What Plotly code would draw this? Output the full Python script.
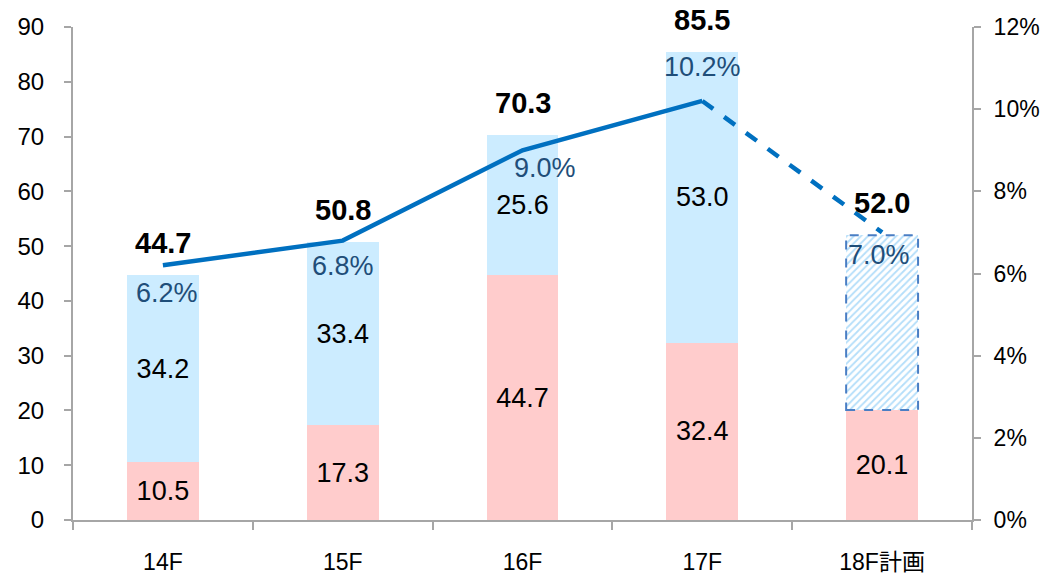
import plotly.graph_objects as go

categories = ["14F", "15F", "16F", "17F", "18F計画"]
lower_vals = [10.5, 17.3, 44.7, 32.4, 20.1]
upper_vals = [34.2, 33.4, 25.6, 53.0, 31.9]
totals = [44.7, 50.8, 70.3, 85.5, 52.0]
rates = [0.062, 0.068, 0.090, 0.102, 0.070]
rate_labels = ["6.2%", "6.8%", "9.0%", "10.2%", "7.0%"]
upper_labels = ["34.2", "33.4", "25.6", "53.0", ""]
lower_labels = ["10.5", "17.3", "44.7", "32.4", "20.1"]

PINK = "#FFCCCC"
LBLUE = "#CCECFF"
HATCH = "#B4DEFA"
LINE = "#0070C0"
PCT = "#1F4E79"
AX = "#A6A6A6"
FONT = "Liberation Sans, Arial, sans-serif"
NARROW = "Liberation Sans Narrow, Arial Narrow, Liberation Sans, Noto Sans CJK JP, sans-serif"
BW = 0.4

n = len(categories)
actual_upper = [v if k < n - 1 else None for k, v in enumerate(upper_vals)]
plan_upper = [v if k == n - 1 else None for k, v in enumerate(upper_vals)]

fig = go.Figure()
fig.add_trace(go.Bar(
    x=categories, y=lower_vals, marker=dict(color=PINK, line=dict(width=0)),
    text=lower_labels, textposition="inside", insidetextanchor="middle",
    textfont=dict(size=27, color="black", family=FONT), width=BW, showlegend=False,
))
fig.add_trace(go.Bar(
    x=categories, y=actual_upper, marker=dict(color=LBLUE, line=dict(width=0)),
    text=upper_labels, textposition="inside", insidetextanchor="middle",
    textfont=dict(size=27, color="black", family=FONT), width=BW, showlegend=False,
))
fig.add_trace(go.Bar(
    x=categories, y=plan_upper,
    marker=dict(color="white", line=dict(width=0),
                pattern=dict(shape="/", fgcolor=HATCH, bgcolor="white",
                             fillmode="replace", size=5, solidity=0.35)),
    width=BW, showlegend=False,
))
# dashed outline of plan segment
i = n - 1
fig.add_shape(type="rect", xref="x", yref="y",
              x0=i - BW / 2, x1=i + BW / 2, y0=lower_vals[i], y1=totals[i],
              line=dict(color="#4A7EC4", width=2, dash="dash"), layer="above")

fig.add_trace(go.Scatter(
    x=categories[:4], y=rates[:4], yaxis="y2", mode="lines",
    line=dict(color=LINE, width=4.5), showlegend=False,
))
fig.add_trace(go.Scatter(
    x=categories[3:], y=rates[3:], yaxis="y2", mode="lines",
    line=dict(color=LINE, width=4.5, dash="dash"), showlegend=False,
))

# total labels
for c, t in zip(categories, totals):
    fig.add_annotation(x=c, y=t, xref="x", yref="y", text="<b>%.1f</b>" % t,
                       showarrow=False, yshift=32, yanchor="middle",
                       font=dict(size=29, color="black", family=FONT))

# rate labels
offsets = [(4, -28), (0, -25), (22, -18), (0, 34), (-3, -23)]
for c, r, lab, (dx, dy) in zip(categories, rates, rate_labels, offsets):
    fig.add_annotation(x=c, y=r, xref="x", yref="y2", text=lab, showarrow=False,
                       xshift=dx, yshift=dy, yanchor="middle",
                       font=dict(size=27, color=PCT, family=FONT))

fig.update_layout(
    barmode="stack",
    width=1047, height=576,
    margin=dict(l=73, r=75, t=27, b=56),
    plot_bgcolor="white", paper_bgcolor="white",
    font=dict(family=FONT, size=23, color="black"),
    xaxis=dict(showline=True, linecolor=AX, linewidth=2, ticks="outside",
               tickson="boundaries", ticklen=8, tickcolor=AX, tickwidth=2,
               tickfont=dict(family=NARROW, size=23), ticklabelstandoff=20,
               showgrid=False, zeroline=False, automargin=False),
    yaxis=dict(range=[0, 90], dtick=10, showline=True, linecolor=AX, linewidth=2,
               ticks="outside", ticklen=7, tickcolor=AX, tickwidth=2,
               ticklabelstandoff=15,
               showgrid=False, zeroline=False, tickfont=dict(size=24), automargin=False),
    yaxis2=dict(range=[0, 0.12], dtick=0.02, tickformat=".0%", overlaying="y",
                side="right", showline=True, linecolor=AX, linewidth=2,
                ticks="outside", ticklen=7, tickcolor=AX, tickwidth=2,
                ticklabelstandoff=8,
                showgrid=False, zeroline=False, tickfont=dict(size=23), automargin=False),
)

fig.write_html("out.html", config={"displayModeBar": False},
               post_script="document.body.style.margin='0';document.body.style.padding='0';")
